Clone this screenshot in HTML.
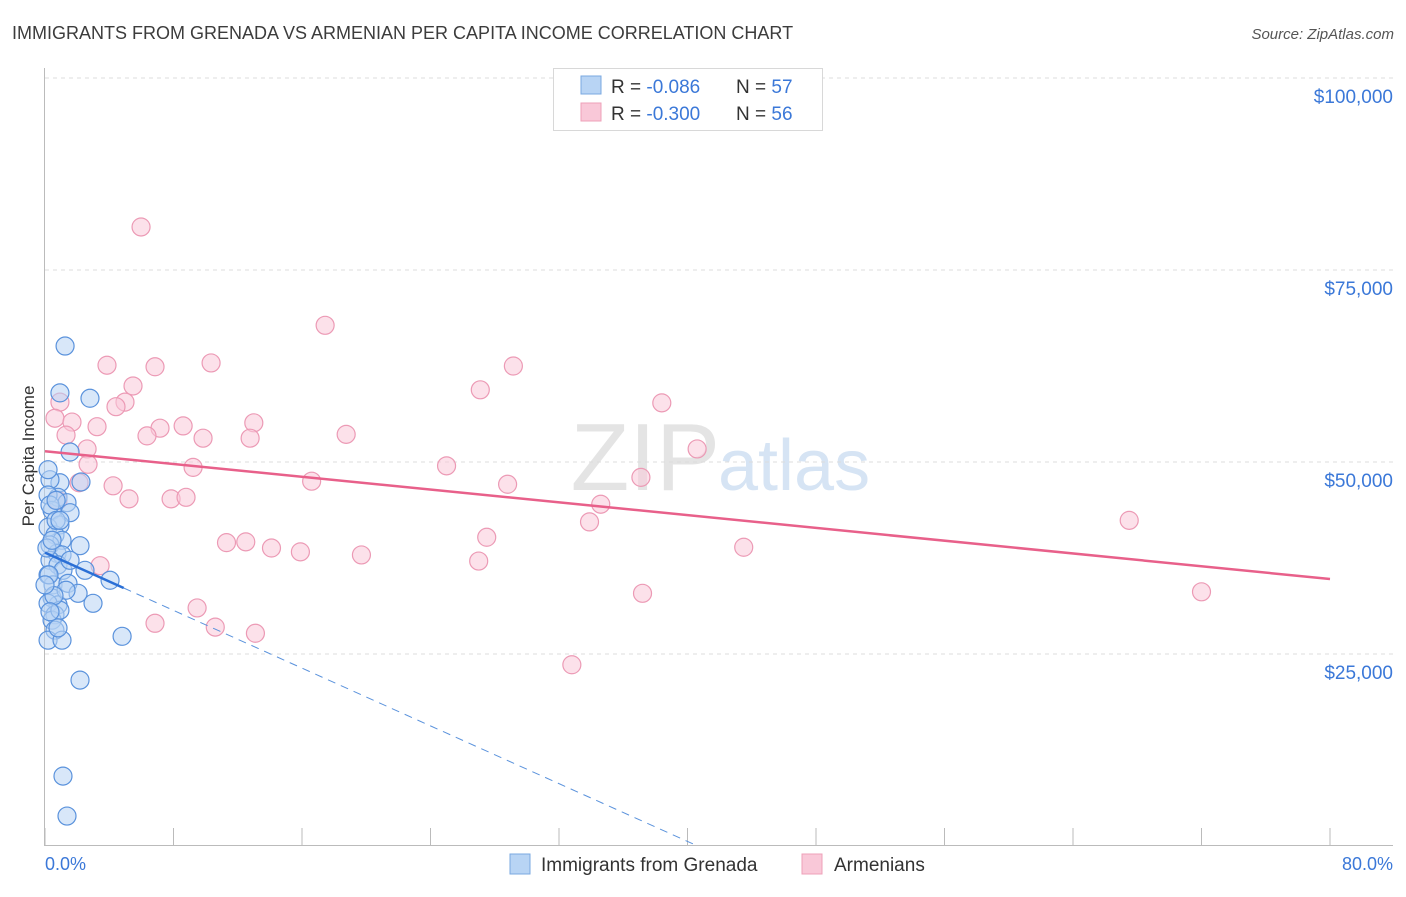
<!DOCTYPE html>
<html><head><meta charset="utf-8"><style>
body{margin:0;background:#fff;font-family:"Liberation Sans",sans-serif;}
svg text{font-family:"Liberation Sans",sans-serif;}
</style></head><body>
<svg id="chart" width="1406" height="892" xmlns="http://www.w3.org/2000/svg">
<text x="12" y="39" font-size="18" fill="#3c3c3c">IMMIGRANTS FROM GRENADA VS ARMENIAN PER CAPITA INCOME CORRELATION CHART</text>
<text x="1394" y="39" font-size="15" fill="#555" text-anchor="end" font-style="italic">Source: ZipAtlas.com</text>
<text x="720" y="490" font-size="96" fill="#e4e4e4" text-anchor="end" font-family="Liberation Serif">ZIP</text>
<text x="718" y="490" font-size="72" fill="#d6e4f4">atlas</text>
<g id="grid"></g>
<g id="axes"></g>
<g id="pts"></g>
<g id="trends"></g>
<text transform="translate(34,456) rotate(-90)" font-size="17" fill="#333" text-anchor="middle">Per Capita Income</text>
<text x="45" y="870" font-size="18" fill="#3b78d8">0.0%</text>
<text x="1393" y="870" font-size="18" fill="#3b78d8" text-anchor="end">80.0%</text>
<g>
<rect x="553.5" y="68.5" width="269" height="62" fill="#fff" stroke="#d8d8d8"/>
<rect x="581" y="76" width="20" height="18" fill="#b8d4f4" stroke="#7aa8e0"/>
<rect x="581" y="103" width="20" height="18" fill="#f9c8d8" stroke="#eea0b8"/>
<text x="611" y="93" font-size="19" fill="#333">R = <tspan fill="#3b78d8">-0.086</tspan><tspan x="736">N = </tspan><tspan fill="#3b78d8">57</tspan></text>
<text x="611" y="120" font-size="19" fill="#333">R = <tspan fill="#3b78d8">-0.300</tspan><tspan x="736">N = </tspan><tspan fill="#3b78d8">56</tspan></text>
</g>
<g>
<rect x="510" y="854" width="20" height="20" fill="#b8d4f4" stroke="#7aa8e0"/>
<text x="541" y="871" font-size="19" fill="#333">Immigrants from Grenada</text>
<rect x="802" y="854" width="20" height="20" fill="#f9c8d8" stroke="#eea0b8"/>
<text x="834" y="871" font-size="19" fill="#333">Armenians</text>
</g>
</svg>
<script>
const yTicks=[25000,50000,75000,100000];
const yTickLabels=["$25,000","$50,000","$75,000","$100,000"];
const blueX=[1.25,0.93,2.80,1.56,2.24,0.93,0.31,0.81,1.37,0.19,1.56,0.44,0.93,0.19,0.62,1.06,2.18,0.31,0.75,1.06,0.31,0.81,2.49,1.12,0.19,0.50,1.43,4.05,0.44,0.81,2.06,2.99,0.19,0.62,0.44,0.93,0.62,0.19,1.06,4.80,2.18,1.12,1.37,0.19,0.31,0.69,0.12,1.31,0.56,0.25,0.81,0.44,0.93,1.56,0,0.31,0.69];
const blueY=[65.1,59.0,58.3,51.3,47.4,47.3,47.7,45.4,44.7,45.7,43.4,43.7,41.8,41.5,40.5,39.8,39.1,39.2,38.1,37.9,37.2,36.6,35.9,35.9,35.3,34.0,34.2,34.6,32.3,31.4,32.9,31.6,31.6,30.1,29.4,30.7,28.1,26.8,26.8,27.3,21.6,9.1,3.9,49.0,44.4,42.4,38.8,33.3,32.6,35.3,28.4,39.8,42.4,37.2,34.0,30.5,45.0];
const pinkX=[5.98,17.44,3.86,6.85,10.34,29.16,5.48,27.1,4.98,4.42,0.93,38.4,0.62,1.68,3.24,7.16,8.60,13.0,1.31,6.35,9.84,12.77,18.75,2.62,40.6,2.68,9.22,25.0,2.12,37.1,16.6,28.8,4.24,0.81,5.23,7.85,8.78,34.6,33.9,67.5,27.5,11.3,12.5,43.5,14.1,15.9,19.7,27.0,3.43,37.2,72.0,9.47,6.85,10.6,13.1,32.8];
const pinkY=[80.6,67.8,62.6,62.4,62.9,62.5,59.9,59.4,57.8,57.2,57.8,57.7,55.7,55.2,54.6,54.4,54.7,55.1,53.5,53.4,53.1,53.1,53.6,51.7,51.7,49.7,49.3,49.5,47.3,48.0,47.5,47.1,46.9,45.0,45.2,45.2,45.4,44.5,42.2,42.4,40.2,39.5,39.6,38.9,38.8,38.3,37.9,37.1,36.5,32.9,33.1,31.0,29.0,28.5,27.7,23.6];
const blueTrend=[38.2,-0.94];
const pinkTrend=[51.4,-0.208];
const NS="http://www.w3.org/2000/svg";
const X=v=>45+v/80*1285;
const Y=v=>846-v/25000*192;
function mk(tag,attrs,parent){const e=document.createElementNS(NS,tag);for(const k in attrs)e.setAttribute(k,attrs[k]);document.getElementById(parent).appendChild(e);return e;}
yTicks.forEach((t,i)=>{
 const l=mk('line',{x1:45,x2:1393,y1:Y(t),y2:Y(t),stroke:'#dcdcdc','stroke-dasharray':'4,4'},'grid');
 
 
 const tx=mk('text',{x:1393,y:Y(t)+25,'font-size':19,fill:'#3b78d8','text-anchor':'end'},'grid');
 tx.textContent=yTickLabels[i];
 
 
});
mk('line',{x1:45,x2:1393,y1:78,y2:78,stroke:'#dcdcdc','stroke-dasharray':'4,4'},'grid');
const ya=mk('line',{x1:44.5,x2:44.5,y1:68,y2:846,stroke:'#bbb'},'axes');


const xa=mk('line',{x1:44,x2:1393,y1:845.5,y2:845.5,stroke:'#bbb'},'axes');


for(let i=0;i<=10;i++){const t=mk('line',{x1:X(i*8),x2:X(i*8),y1:828,y2:846,stroke:'#bbb'},'axes');
 
 }
function dots(xs,ys,fill,stroke,name){xs.forEach((x,i)=>{const c=mk('circle',{cx:X(x),cy:Y(ys[i]*1000),r:9,fill:fill,'fill-opacity':0.55,stroke:stroke,'stroke-width':1.2},'pts');
 
 });}
dots(pinkX,pinkY,'#f9c8d8','#ec9ab5','armenians-point');
dots(blueX,blueY,'#b8d4f4','#5a92dc','grenada-point');
const pl=mk('line',{x1:X(0),y1:Y(pinkTrend[0]*1000),x2:X(80),y2:Y((pinkTrend[0]+pinkTrend[1]*80)*1000),stroke:'#e8608a','stroke-width':2.5},'trends');


const bs=mk('line',{x1:X(0),y1:Y(blueTrend[0]*1000),x2:X(4.9),y2:Y((blueTrend[0]+blueTrend[1]*4.9)*1000),stroke:'#2a6fd6','stroke-width':2.5},'trends');


const xe=-blueTrend[0]/blueTrend[1];
const bd=mk('line',{x1:X(4.9),y1:Y((blueTrend[0]+blueTrend[1]*4.9)*1000),x2:X(xe),y2:Y(0),stroke:'#5a92dc','stroke-width':1,'stroke-dasharray':'8,6'},'trends');


</script>
</body></html>
